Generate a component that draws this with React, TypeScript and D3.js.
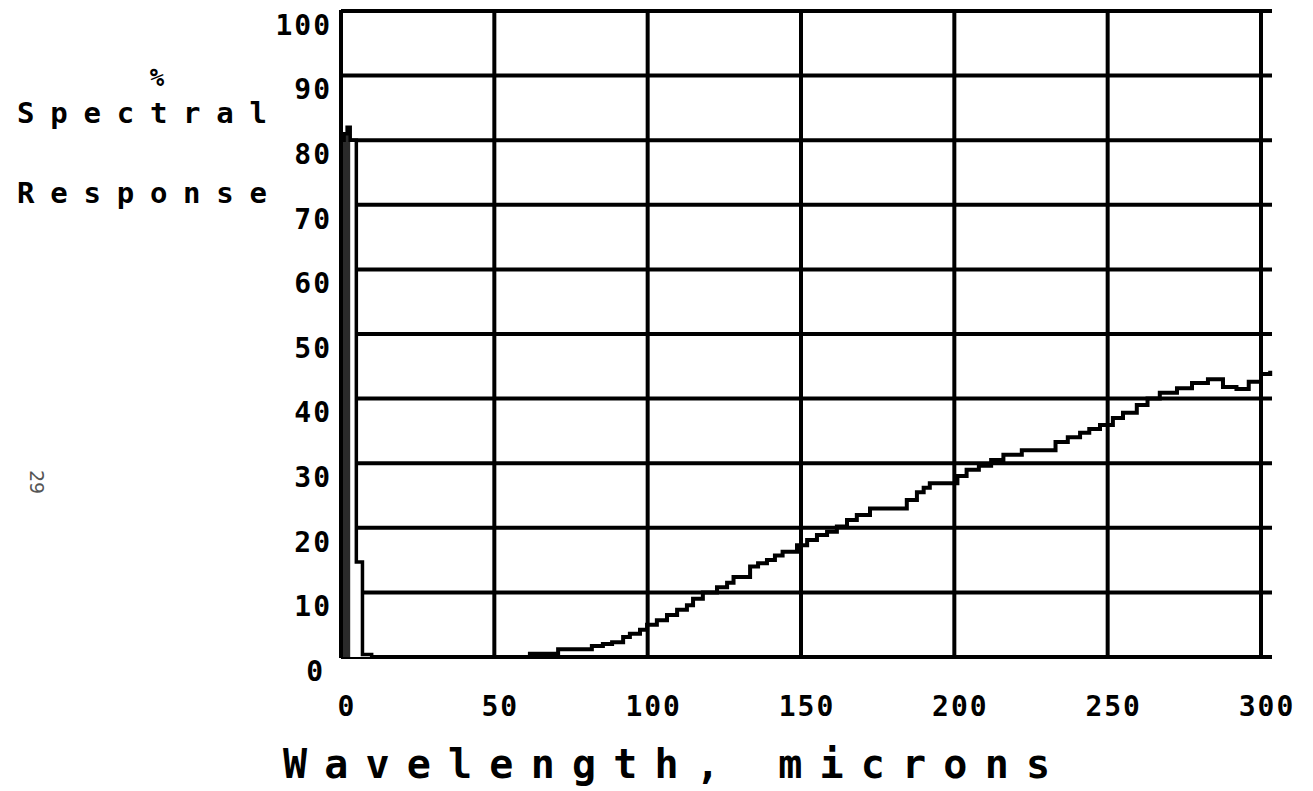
import React from "react";
import * as d3 from "d3";

// ---- data ----
const xTicks = [0, 50, 100, 150, 200, 250, 300];
const yTicks = [0, 10, 20, 30, 40, 50, 60, 70, 80, 90, 100];

// near-zero spike (wavelength, % response)
const spikeX = [0, 1, 2, 3, 5, 7, 10];
const spikeY = [80, 81, 82, 80, 14.7, 0.4, 0];

// long-wavelength staircase
const rampX = [58, 61.6, 70.8, 81.8, 85.4, 88.4, 92, 94.2, 97.5, 99.8, 103, 106.3, 109.6, 112.8, 114.8, 118, 122.6, 125.9, 128, 133.4, 136, 138.9, 141.5, 144, 148.7, 152, 155.2, 158.5, 161.7, 165, 168.2, 172.5, 184.5, 187.8, 190, 192, 201, 204, 208, 212, 216, 222, 233, 237, 241, 244, 247.5, 251.7, 255, 259.5, 263, 267, 272.6, 277.5, 282.7, 287.6, 292, 296, 300, 303];
const rampY = [0, 0.5, 1.2, 1.7, 2.0, 2.3, 3.1, 3.6, 4.2, 5.0, 5.7, 6.5, 7.3, 8.0, 9.0, 10.0, 10.8, 11.5, 12.4, 14.0, 14.5, 15.0, 15.7, 16.3, 17.3, 18.1, 18.9, 19.4, 20.2, 21.2, 22.0, 23.0, 24.3, 25.5, 26.2, 26.9, 28.0, 29.0, 29.6, 30.5, 31.3, 32.0, 33.3, 34.0, 34.7, 35.3, 35.9, 37.0, 37.8, 39.0, 40.0, 40.9, 41.6, 42.4, 43.0, 41.8, 41.5, 42.6, 43.8, 44.3];

const FONT = "'DejaVu Sans Mono', monospace";

export default function App() {
  const x = d3.scaleLinear().domain([0, 300]).range([341, 1261]);
  const y = d3.scaleLinear().domain([0, 100]).range([657, 11]);

  const spike = spikeX.map((v, i) => [v, spikeY[i]] as [number, number]);
  const ramp = rampX.map((v, i) => [v, rampY[i]] as [number, number]);

  const line = d3
    .line<[number, number]>()
    .x((d) => x(d[0]))
    .y((d) => y(d[1]))
    .curve(d3.curveStepAfter);
  const area = d3
    .area<[number, number]>()
    .x((d) => x(d[0]))
    .y0(y(0))
    .y1((d) => y(d[1]))
    .curve(d3.curveStepAfter);

  const darkPart = spike.filter((d) => d[0] <= 3);

  return (
    <svg
      width={1313}
      height={791}
      style={{ position: "absolute", left: 0, top: 0, background: "#fff" }}
    >
      <rect x={0} y={0} width={1313} height={791} fill="#fff" />
      {/* horizontal grid */}
      {yTicks.map((t) => (
        <line key={"h" + t} x1={x(0)} x2={x(300) + 11} y1={y(t)} y2={y(t)} stroke="#000" strokeWidth={4} />
      ))}
      {/* vertical grid */}
      {xTicks.map((t) => (
        <line key={"v" + t} x1={x(t)} x2={x(t)} y1={y(100) - 1} y2={y(0) + 1} stroke="#000" strokeWidth={4} />
      ))}
      {/* spike */}
      <path d={area(spike) || ""} fill="#fff" />
      <path d={area(darkPart) || ""} fill="#2a2a2a" />
      <path d={line(spike) || ""} fill="none" stroke="#000" strokeWidth={3.5} />
      <line x1={x(0)} x2={x(0)} y1={y(100) - 1} y2={y(0) + 1} stroke="#000" strokeWidth={4} />
      {/* ramp */}
      <path d={line(ramp) || ""} fill="none" stroke="#000" strokeWidth={4} />

      {/* y tick labels */}
      {yTicks.map((t) => (
        <text
          key={"yl" + t}
          x={t === 0 ? 325 : 332}
          y={y(t) + 14}
          dy="0.35em"
          textAnchor="end"
          fontFamily={FONT}
          fontWeight="bold"
          fontSize={28}
          letterSpacing={2}
        >
          {t}
        </text>
      ))}
      {/* x tick labels */}
      {xTicks.map((t) => (
        <text
          key={"xl" + t}
          x={x(t) + 6}
          y={716}
          textAnchor="middle"
          fontFamily={FONT}
          fontWeight="bold"
          fontSize={28}
          letterSpacing={2}
        >
          {t}
        </text>
      ))}

      {/* axis titles */}
      <text x={157} y={86} textAnchor="middle" fontFamily={FONT} fontWeight="bold" fontSize={24}>
        %
      </text>
      <text x={17} y={123} fontFamily={FONT} fontWeight="bold" fontSize={29} textLength={250} lengthAdjust="spacing">
        Spectral
      </text>
      <text x={17} y={203} fontFamily={FONT} fontWeight="bold" fontSize={29} textLength={250} lengthAdjust="spacing">
        Response
      </text>
      <text x={283} y={778} fontFamily={FONT} fontWeight="bold" fontSize={40} textLength={767} lengthAdjust="spacing">
        Wavelength, microns
      </text>

      {/* page number */}
      <text
        x={30}
        y={482}
        transform="rotate(90 30 482)"
        textAnchor="middle"
        fontFamily={FONT}
        fontSize={20}
        fill="#555"
      >
        29
      </text>
    </svg>
  );
}
